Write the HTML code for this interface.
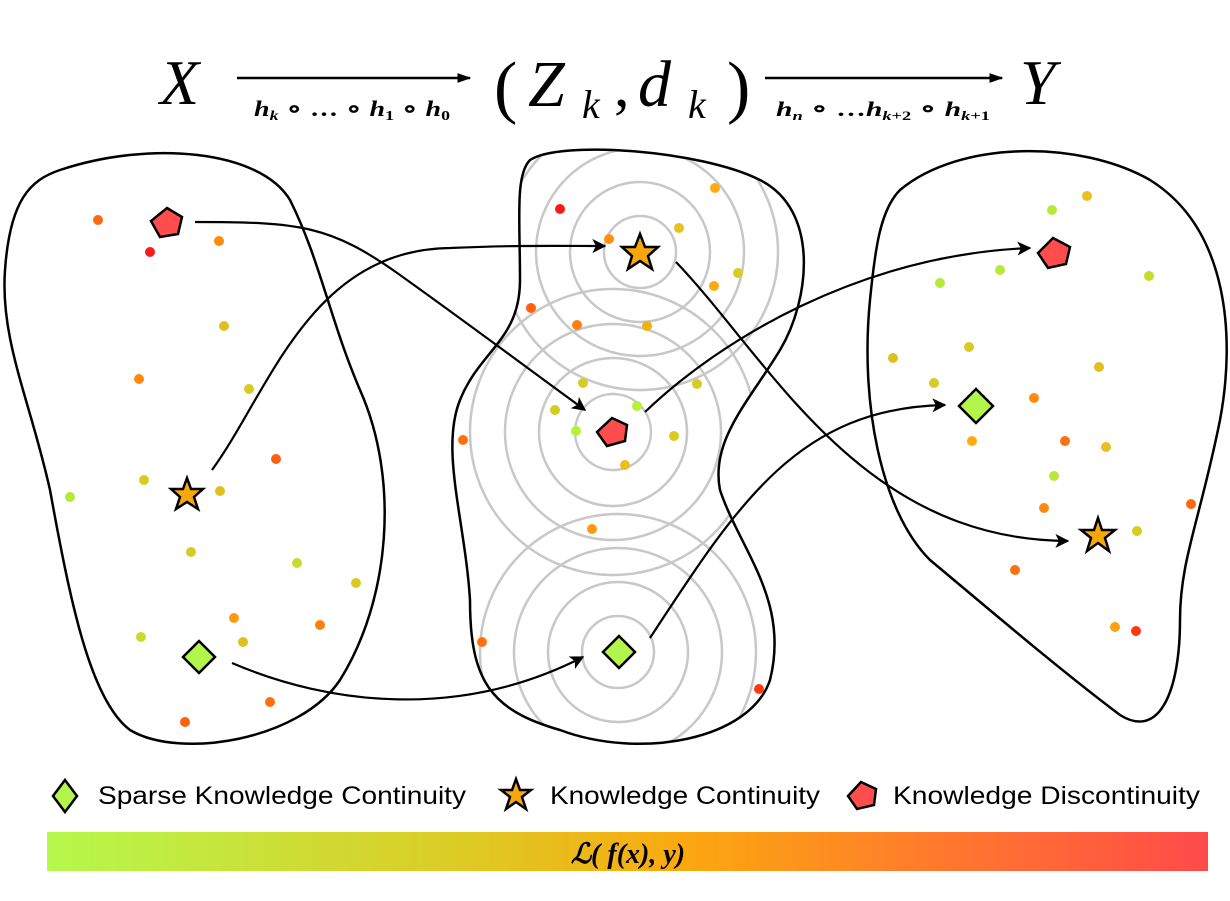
<!DOCTYPE html>
<html><head><meta charset="utf-8"><style>
html,body{margin:0;padding:0;background:#fff;width:1230px;height:901px;overflow:hidden}
svg{display:block}
</style></head><body>
<svg width="1230" height="901" viewBox="0 0 1230 901" xmlns="http://www.w3.org/2000/svg">
<defs>
<marker id="ah" viewBox="0 0 10 10" refX="9" refY="5" markerWidth="14" markerHeight="14" orient="auto" markerUnits="userSpaceOnUse"><path d="M0,0 L10,5 L0,10 L2.5,5 Z" fill="#000"/></marker>
<marker id="ah2" viewBox="0 0 10 10" refX="9" refY="5" markerWidth="14" markerHeight="14" orient="auto" markerUnits="userSpaceOnUse"><path d="M0,1.5 L10,5 L0,8.5 Z" fill="#000"/></marker>
<linearGradient id="g" x1="0" x2="1" y1="0" y2="0">
<stop offset="0" stop-color="#b6f84c"/><stop offset="0.35" stop-color="#dccc25"/><stop offset="0.55" stop-color="#fba80f"/><stop offset="0.75" stop-color="#ff7d2a"/><stop offset="1" stop-color="#ff4a4a"/></linearGradient>
<clipPath id="mc"><path d="M530,160 C560,140 700,150 760,180 C820,210 810,300 780,350 C750,400 710,440 720,490 C740,550 790,600 770,680 C750,740 640,760 560,730 C490,710 470,680 470,600 C465,520 440,450 460,400 C480,350 520,340 520,280 C520,220 515,175 530,160 Z"/></clipPath>
</defs>

<!-- title -->
<g font-family="Liberation Serif, serif" font-style="italic" fill="#000">
<text x="160" y="104" font-size="64">X</text>
<line x1="237" y1="78" x2="470" y2="78" stroke="#000" stroke-width="2.5" marker-end="url(#ah2)"/>
<text x="254" y="116" font-size="22" font-weight="bold" textLength="196" lengthAdjust="spacingAndGlyphs">h<tspan font-size="14" dy="4">k</tspan><tspan dy="-4" font-style="normal"> ∘ … ∘ </tspan>h<tspan font-size="14" dy="4" font-style="normal">1</tspan><tspan dy="-4" font-style="normal"> ∘ </tspan>h<tspan font-size="14" dy="4" font-style="normal">0</tspan></text>
<text x="494" y="110" font-size="70" font-style="normal">(</text>
<text x="528" y="106" font-size="66">Z</text>
<text x="582" y="118" font-size="40">k</text>
<text x="614" y="106" font-size="62" font-style="normal">,</text>
<text x="638" y="106" font-size="66">d</text>
<text x="688" y="118" font-size="40">k</text>
<text x="727" y="110" font-size="70" font-style="normal">)</text>
<line x1="765" y1="78" x2="1002" y2="78" stroke="#000" stroke-width="2.5" marker-end="url(#ah2)"/>
<text x="776" y="116" font-size="21" font-weight="bold" textLength="214" lengthAdjust="spacingAndGlyphs">h<tspan font-size="13" dy="4">n</tspan><tspan dy="-4" font-style="normal"> ∘ …</tspan>h<tspan font-size="13" dy="4">k<tspan font-style="normal">+2</tspan></tspan><tspan dy="-4" font-style="normal"> ∘ </tspan>h<tspan font-size="13" dy="4">k<tspan font-style="normal">+1</tspan></tspan></text>
<text x="1020" y="104" font-size="64">Y</text>
</g>

<!-- rings -->
<g clip-path="url(#mc)" fill="none" stroke="#c8c8c8" stroke-width="2.5">
<circle cx="640" cy="252" r="36"/><circle cx="640" cy="252" r="70"/><circle cx="640" cy="252" r="104"/><circle cx="640" cy="252" r="138"/>
<circle cx="613" cy="432" r="38"/><circle cx="613" cy="432" r="74"/><circle cx="613" cy="432" r="108"/><circle cx="613" cy="432" r="143"/>
<circle cx="618" cy="652" r="36"/><circle cx="618" cy="652" r="70"/><circle cx="618" cy="652" r="104"/><circle cx="618" cy="652" r="138"/>
</g>

<!-- blobs -->
<g fill="none" stroke="#000" stroke-width="2.5">
<path d="M60,170 C150,140 260,150 290,200 C320,260 330,320 360,390 C400,480 390,600 340,680 C300,740 180,760 130,730 C90,700 70,600 50,490 C30,400 0,340 5,270 C10,200 30,180 60,170 Z"/>
<path d="M530,160 C560,140 700,150 760,180 C820,210 810,300 780,350 C750,400 710,440 720,490 C740,550 790,600 770,680 C750,740 640,760 560,730 C490,710 470,680 470,600 C465,520 440,450 460,400 C480,350 520,340 520,280 C520,220 515,175 530,160 Z"/>
<path d="M900,190 C960,140 1080,140 1150,180 C1230,230 1235,340 1220,420 C1200,520 1180,560 1180,620 C1180,690 1160,740 1120,715 C1060,670 990,610 930,560 C880,510 860,400 870,300 C875,250 880,210 900,190 Z"/>
</g>

<!-- dots -->
<g>
<circle cx="98" cy="220" r="5" fill="#ff6a10"/><circle cx="150" cy="252" r="5" fill="#ff1a1a"/><circle cx="219" cy="241" r="5" fill="#ff8a10"/>
<circle cx="224" cy="326" r="5" fill="#e0c020"/><circle cx="139" cy="379" r="5" fill="#ff8a10"/><circle cx="249" cy="389" r="5" fill="#d8cc22"/>
<circle cx="276" cy="459" r="5" fill="#ff6010"/><circle cx="144" cy="480" r="5" fill="#d8cc22"/><circle cx="220" cy="491" r="5" fill="#e0c020"/>
<circle cx="70" cy="497" r="5" fill="#b6ea3a"/><circle cx="191" cy="552" r="5" fill="#d8cc22"/><circle cx="297" cy="563" r="5" fill="#c8dc30"/>
<circle cx="356" cy="583" r="5" fill="#d8cc22"/><circle cx="234" cy="618" r="5" fill="#ff9a10"/><circle cx="320" cy="625" r="5" fill="#ff8010"/>
<circle cx="141" cy="637" r="5" fill="#c8dc30"/><circle cx="243" cy="642" r="5" fill="#e0c020"/><circle cx="270" cy="702" r="5" fill="#ff7010"/>
<circle cx="185" cy="722" r="5" fill="#ff6010"/>

<circle cx="560" cy="209" r="5" fill="#ff1a1a"/><circle cx="715" cy="188" r="5" fill="#ffaa10"/><circle cx="679" cy="228" r="5" fill="#e8c020"/>
<circle cx="609" cy="239" r="5" fill="#ff9010"/><circle cx="738" cy="273" r="5" fill="#d8cc22"/><circle cx="714" cy="286" r="5" fill="#ffaa10"/>
<circle cx="531" cy="308" r="5" fill="#ff6010"/><circle cx="577" cy="325" r="5" fill="#ff8010"/><circle cx="647" cy="326" r="5" fill="#f0b010"/>
<circle cx="583" cy="383" r="5" fill="#d8cc22"/><circle cx="697" cy="384" r="5" fill="#d8cc22"/><circle cx="555" cy="410" r="5" fill="#d0d020"/>
<circle cx="637" cy="406" r="5" fill="#b6f03a"/><circle cx="576" cy="431" r="5" fill="#b6f03a"/><circle cx="674" cy="436" r="5" fill="#d8cc22"/>
<circle cx="463" cy="440" r="5" fill="#ff7010"/><circle cx="625" cy="465" r="5" fill="#e8c020"/><circle cx="592" cy="529" r="5" fill="#ff9a10"/>
<circle cx="482" cy="642" r="5" fill="#ff7010"/><circle cx="759" cy="689" r="5" fill="#ff3a10"/>

<circle cx="1087" cy="196" r="5" fill="#e8c020"/><circle cx="1052" cy="210" r="5" fill="#b6ea3a"/><circle cx="1000" cy="270" r="5" fill="#b6ea3a"/>
<circle cx="1149" cy="276" r="5" fill="#c8dc30"/><circle cx="940" cy="283" r="5" fill="#b6ea3a"/><circle cx="969" cy="347" r="5" fill="#d8cc22"/>
<circle cx="893" cy="358" r="5" fill="#e0c020"/><circle cx="1099" cy="367" r="5" fill="#e0c020"/><circle cx="934" cy="383" r="5" fill="#d8cc22"/>
<circle cx="1034" cy="398" r="5" fill="#ff8a10"/><circle cx="972" cy="441" r="5" fill="#ffaa10"/><circle cx="1065" cy="441" r="5" fill="#ff7010"/>
<circle cx="1106" cy="447" r="5" fill="#e8c020"/><circle cx="1054" cy="476" r="5" fill="#b6ea3a"/><circle cx="1044" cy="508" r="5" fill="#ff8a10"/>
<circle cx="1191" cy="504" r="5" fill="#ff6a10"/><circle cx="1137" cy="531" r="5" fill="#d8cc22"/><circle cx="1015" cy="570" r="5" fill="#ff7010"/>
<circle cx="1115" cy="627" r="5" fill="#ffa010"/><circle cx="1136" cy="631" r="5" fill="#ff3a10"/>
</g>

<!-- arrows -->
<g fill="none" stroke="#000" stroke-width="2.2" marker-end="url(#ah)">
<path d="M195,222 C300,222 330,225 400,275 C470,325 530,370 585,410"/>
<path d="M212,470 C270,390 310,250 450,248 C520,245 560,246 605,246"/>
<path d="M232,663 C330,705 460,720 583,657"/>
<path d="M645,412 C720,340 860,255 1030,248"/>
<path d="M676,262 C770,360 860,540 1068,541"/>
<path d="M650,638 C740,500 800,408 945,405"/>
</g>

<!-- markers -->
<g stroke="#000" stroke-width="2.5" stroke-linejoin="miter">
<polygon points="167,208 182,217 178,234 160,237 151,221" fill="#ff4d4d"/>
<polygon points="612,418 627,425 625,441 607,446 597,432" fill="#ff4d4d"/>
<polygon points="1053,238 1070,247 1066,264 1048,268 1038,253" fill="#ff4d4d"/>
<polygon points="187,478 191,489 203,489 194,497 198,509 187,502 176,509 180,497 171,489 183,489" fill="#f5a70c"/>
<polygon points="640,234 645,247 658,247 648,256 652,269 640,261 628,269 632,256 622,247 635,247" fill="#f5a70c"/>
<polygon points="1098,518 1102,530 1115,530 1105,538 1109,551 1098,543 1087,551 1091,538 1081,530 1094,530" fill="#f5a70c"/>
<polygon points="199,641 215,657 199,673 183,657" fill="#b4f54b"/>
<polygon points="619,636 635,652 619,668 603,652" fill="#b4f54b"/>
<polygon points="976,389 993,406 976,423 959,406" fill="#b4f54b"/>
</g>

<!-- legend -->
<g stroke="#000" stroke-width="2.5">
<polygon points="65,780 77,796 65,812 53,796" fill="#b4f54b"/>
<polygon points="516,779 520,790 531,790 522,797 526,809 516,802 506,809 510,797 501,790 512,790" fill="#f5a70c"/>
<polygon points="861,782 876,789 874,805 857,809 848,796" fill="#ff4d4d"/>
</g>
<g font-family="Liberation Sans, sans-serif" font-size="25" fill="#000">
<text x="98" y="804" textLength="368" lengthAdjust="spacingAndGlyphs">Sparse Knowledge Continuity</text>
<text x="550" y="804" textLength="270" lengthAdjust="spacingAndGlyphs">Knowledge Continuity</text>
<text x="893" y="804" textLength="307" lengthAdjust="spacingAndGlyphs">Knowledge Discontinuity</text>
</g>
<rect x="47" y="832" width="1161" height="39" fill="url(#g)"/>
<text x="628" y="863" text-anchor="middle" font-family="Liberation Serif, serif" font-style="italic" font-weight="bold" font-size="28" fill="#000">ℒ( f(x), y)</text>
</svg>
</body></html>
